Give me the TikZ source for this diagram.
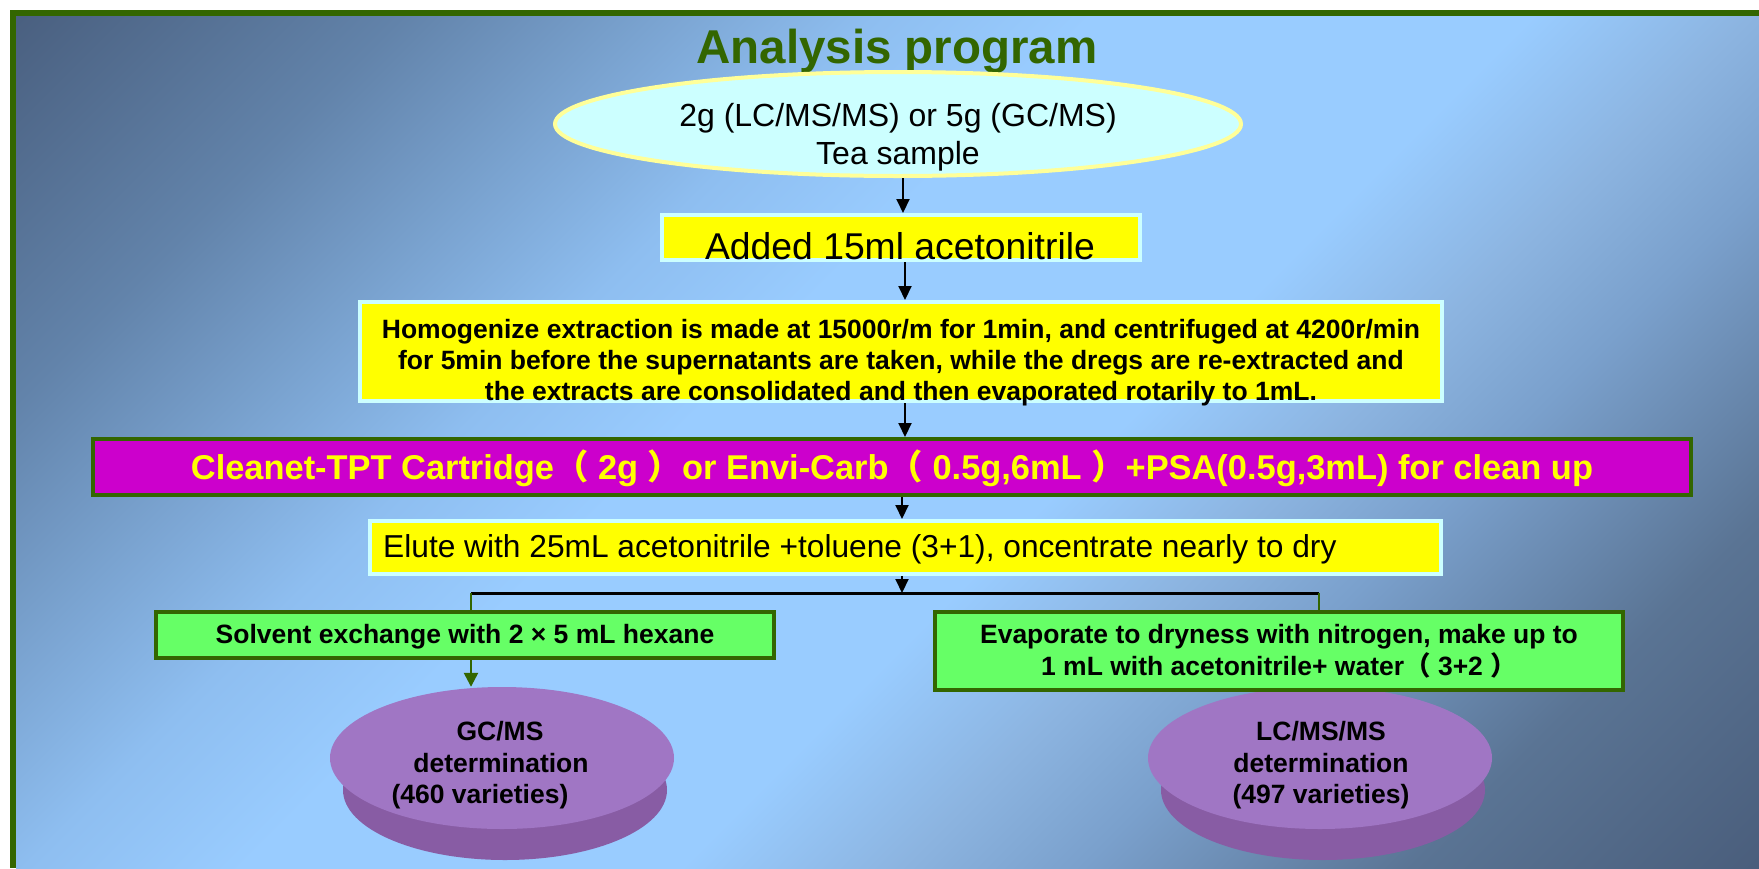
\documentclass[tikz,border=0pt]{standalone}
\usepackage{fontspec}
\setmainfont{Liberation Sans}
\newfontfamily\cjk{Noto Sans CJK SC}
\usetikzlibrary{shapes.geometric,arrows.meta}
\definecolor{bgA}{RGB}{74,96,128}
\definecolor{bgB}{RGB}{98,131,170}
\definecolor{bgC}{RGB}{122,163,208}
\definecolor{bgD}{RGB}{142,190,240}
\definecolor{bgL}{RGB}{153,204,255}
\definecolor{bgE}{RGB}{140,180,224}
\definecolor{bgC2}{RGB}{122,160,204}
\definecolor{bgF}{RGB}{90,116,148}
\definecolor{bgG}{RGB}{74,94,124}
\definecolor{fgreen}{RGB}{51,102,0}
\definecolor{lcyan}{RGB}{204,255,255}
\definecolor{lyellow}{RGB}{255,255,153}
\definecolor{boxyellow}{RGB}{255,255,0}
\definecolor{mag}{RGB}{204,0,204}
\definecolor{lgreen}{RGB}{102,255,102}
\definecolor{ctop}{RGB}{160,118,196}
\definecolor{cside}{RGB}{136,92,164}
\pgfdeclarehorizontalshading{bgsh}{100bp}{color(0bp)=(bgA); color(14.6bp)=(bgA); color(25bp)=(bgB); color(32bp)=(bgC); color(38bp)=(bgD); color(44bp)=(bgL); color(56bp)=(bgL); color(62bp)=(bgE); color(67bp)=(bgC2); color(76bp)=(bgF); color(85.4bp)=(bgG); color(100bp)=(bgG)}
\tikzset{
  ttl/.style={font=\fontsize{47.5}{57}\selectfont\bfseries, text=fgreen, inner sep=0, anchor=base},
  samp/.style={ellipse, draw=lyellow, line width=4pt, fill=lcyan, minimum width=686, minimum height=104, inner sep=0},
  ybox/.style={rectangle, draw=lcyan, line width=4pt, fill=boxyellow, inner sep=0},
  mbox/.style={rectangle, draw=fgreen, line width=4pt, fill=mag, inner sep=0},
  gbox/.style={rectangle, draw=fgreen, line width=4pt, fill=lgreen, inner sep=0},
  topface/.style={ellipse, fill=ctop, minimum width=344, minimum height=142, inner sep=0},
  txt/.style={inner sep=0, anchor=base},
  reg32/.style={font=\fontsize{32}{38}\selectfont},
  reg31/.style={font=\fontsize{31.7}{38}\selectfont},
  reg37/.style={font=\fontsize{37.3}{44}\selectfont},
  boldtx/.style={font=\fontsize{26.5}{32}\selectfont\bfseries},
  boldcl/.style={font=\fontsize{34.4}{41}\selectfont\bfseries, text=boxyellow},
  arr/.style={draw=black, line width=2pt, -{Triangle[length=14pt,width=13pt]}},
  garr/.style={draw=fgreen, line width=2.5pt, -{Triangle[length=14pt,width=14pt]}},
  gline/.style={draw=fgreen, line width=2.5pt},
  bline/.style={draw=black, line width=3pt}
}
\begin{document}
\begin{tikzpicture}[x=1pt,y=-1pt]
\useasboundingbox (0,0) rectangle (1759,868);
\fill[white] (0,0) rectangle (1759,868);
\shade[shading=bgsh, shading angle=-45] (16,16) rectangle (1759,868);
\fill[fgreen] (10,10) rectangle (1759,16);
\fill[fgreen] (10,10) rectangle (16,868);

% title
\node[ttl] (title) at (897,63) {Analysis program};

% sample ellipse
\node[samp] (samp) at (898,124) {};
\node[txt, reg32] (s1) at (898,126) {2g (LC/MS/MS) or 5g (GC/MS)};
\node[txt, reg32] (s2) at (898,164) {Tea sample};

% boxes
\node[ybox, minimum width=478, minimum height=45] (add) at (901,237.5) {};
\node[txt, reg37] (addt) at (900,259) {Added 15ml acetonitrile};

\node[ybox, minimum width=1082, minimum height=99] (homog) at (901,351.5) {};
\node[txt, boldtx] (h1) at (901,338) {Homogenize extraction is made at 15000r/m for 1min, and centrifuged at 4200r/min};
\node[txt, boldtx] (h2) at (901,369) {for 5min before the supernatants are taken, while the dregs are re-extracted and};
\node[txt, boldtx] (h3) at (901,400) {the extracts are consolidated and then evaporated rotarily to 1mL.};

\node[mbox, minimum width=1598, minimum height=56] (clean) at (892,467) {};
\node[txt, boldcl] (cleant) at (892,479) {Cleanet-TPT Cartridge{\cjk （} 2g {\cjk ）}or Envi-Carb{\cjk （} 0.5g,6mL {\cjk ）}+PSA(0.5g,3mL) for clean up};

\node[ybox, minimum width=1071, minimum height=53] (elute) at (905.5,547.5) {};
\node[txt, reg31, anchor=base west] (elutet) at (383,557) {Elute with 25mL acetonitrile +toluene (3+1), oncentrate nearly to dry};

% cylinders
\fill[cside] (505,790) ellipse [x radius=162pt, y radius=70pt];
\node[topface] (gc) at (502,758) {};
\node[txt, boldtx] (g1) at (500,740) {GC/MS};
\node[txt, boldtx] (g2) at (501,772) {determination};
\node[txt, boldtx] (g3) at (480,803) {(460 varieties)};

\fill[cside] (1323,790) ellipse [x radius=162pt, y radius=70pt];
\node[topface] (lc) at (1320,758) {};
\node[txt, boldtx] (l1) at (1321,740) {LC/MS/MS};
\node[txt, boldtx] (l2) at (1321,772) {determination};
\node[txt, boldtx] (l3) at (1321,803) {(497 varieties)};

\node[gbox, minimum width=618, minimum height=46] (solv) at (465,635) {};
\node[txt, boldtx] (solvt) at (465,643) {Solvent exchange with 2 × 5 mL hexane};

\node[gbox, minimum width=688, minimum height=78] (evap) at (1279,651) {};
\node[txt, boldtx] (e1) at (1279,643) {Evaporate to dryness with nitrogen, make up to};
\node[txt, boldtx] (e2) at (1279,675) {1 mL with acetonitrile+ water{\cjk （} 3+2 {\cjk ）}};

% connectors
\coordinate (c1) at (903,0);
\coordinate (c2) at (905,0);
\coordinate (c3) at (902,0);
\coordinate (bl) at (471,593);
\coordinate (br) at (1319,593);
\coordinate (bm) at (902,593);
\draw[arr] (samp.south -| c1) -- (add.north -| c1);
\draw[arr] (add.south -| c2) -- (homog.north -| c2);
\draw[arr] (homog.south -| c2) -- (clean.north -| c2);
\draw[arr] (clean.south -| c3) -- (elute.north -| c3);
\draw[arr] (elute.south -| c3) -- (bm);
\draw[bline] (bl) -- (br);
\draw[gline] (bl) -- (solv.north -| bl);
\draw[gline] (br) -- (evap.north -| br);
\draw[garr] (solv.south -| bl) -- (gc.north -| bl);
\end{tikzpicture}
\end{document}
